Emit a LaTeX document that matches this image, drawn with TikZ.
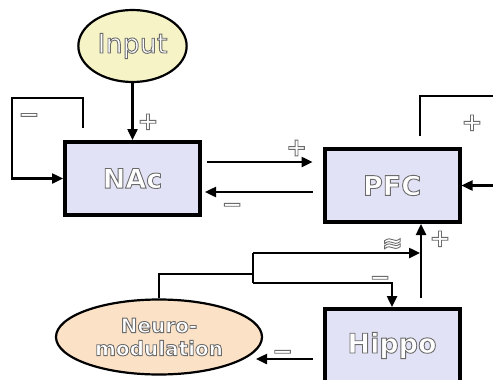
\documentclass[tikz,border=0pt]{standalone}
\usepackage{fontspec}
\setmainfont{DejaVu Sans}
\usetikzlibrary{shapes.geometric, arrows.meta, calc}
\definecolor{inputfill}{HTML}{F6F4C6}
\definecolor{boxfill}{HTML}{E2E2F6}
\definecolor{neurofill}{HTML}{FBE1C6}
% white glyphs with a grey stroke round them
\newcommand{\outlined}[1]{\special{pdf:literal direct 2 Tr 0.9 w 0.42 G}#1}

\begin{document}
\begin{tikzpicture}[x=1pt, y=-1pt]
\tikzset{
    region/.style={draw, rectangle, line width=4pt, fill=boxfill, minimum width=135pt, minimum height=73pt, text=white, font=\bfseries\fontsize{27}{30}\selectfont},
    blob/.style={draw, ellipse, line width=2.2pt, text=white},
    sign/.style={text=white, font=\bfseries\fontsize{25}{25}\selectfont, inner sep=0pt},
    conn/.style={line width=2.4pt, -{Triangle[length=11pt,width=10pt]}},
    wire/.style={line width=2.4pt}
}
\useasboundingbox (0,0) rectangle (493,380);

  % areas
  \node[blob, fill=inputfill, minimum width=93pt, minimum height=72pt, font=\fontsize{27}{30}\selectfont] (in) at (132.5,46) {\outlined{Input}};
  \node[region] (nac) at (132.5,178.5) {\outlined{NAc}};
  \node[region] (pfc) at (392,185.5) {\outlined{PFC}};
  \node[region] (hippo) at (392,345.5) {\outlined{Hippo}};
  \node[blob, fill=neurofill, minimum width=206pt, minimum height=75pt, inner sep=0pt, align=center, font=\bfseries\fontsize{20}{23}\selectfont] (neuro) at (159,337) {\outlined{Neuro-}\\\outlined{modulation}};

  % turning points
  \coordinate (nacfb) at (83,128);
  \coordinate (nacturn) at (12,98);
  \coordinate (pfcfb) at (420,136);
  \coordinate (pfcturn) at (505,96);
  \coordinate (tap) at (253,274);
  \coordinate (tapup) at (253,253);
  \coordinate (tapdn) at (253,283);
  \coordinate (hpfc) at (421,298);
  \coordinate (nmin) at (256,359);

  \draw[conn] (in) -- (nac) node[sign, pos=0.68, xshift=15.5pt] {\outlined{+}};
  \draw[conn] (nacfb) |- (nacturn) |- (nac.west) node[sign, pos=0.1, xshift=17pt, yshift=-4pt] {\outlined{−}};

  \draw[conn, shorten <=5pt, shorten >=10pt] ([yshift=16.5pt]nac.east) -- ([yshift=23.5pt]pfc.west)
     node[sign, pos=0.785, yshift=14pt] {\outlined{+}};
  \draw[conn, shorten <=10pt, shorten >=3pt] ([yshift=-6.5pt]pfc.west) -- ([yshift=-13.5pt]nac.east)
     node[sign, pos=0.75, yshift=-16pt] {\outlined{−}};

  \draw[conn] (pfcfb) |- (pfcturn) |- (pfc.east) node[sign, pos=0.15, xshift=-33pt] {\outlined{+}};
  \draw[conn] (hpfc) -- (hpfc |- pfc.south) node[sign, pos=0.8, xshift=19pt] {\outlined{+}};

  % neuromodulation split
  \draw[wire] (neuro.north) |- (tap);
  \draw[wire] (tapup) -- (tapdn);
  \draw[conn, shorten >=1pt] (tapup) -- (tapup -| hpfc) node[sign, pos=0.83, yshift=8pt] {\outlined{≈}};
  \draw[conn] (tapdn) -| (hippo.north) node[sign, pos=0.457, yshift=2pt] {\outlined{−}};

  \draw[conn, shorten <=10pt] ([yshift=-13.5pt]hippo.west) -- (nmin) node[sign, pos=0.6, yshift=4pt] {\outlined{−}};
\end{tikzpicture}
\end{document}
